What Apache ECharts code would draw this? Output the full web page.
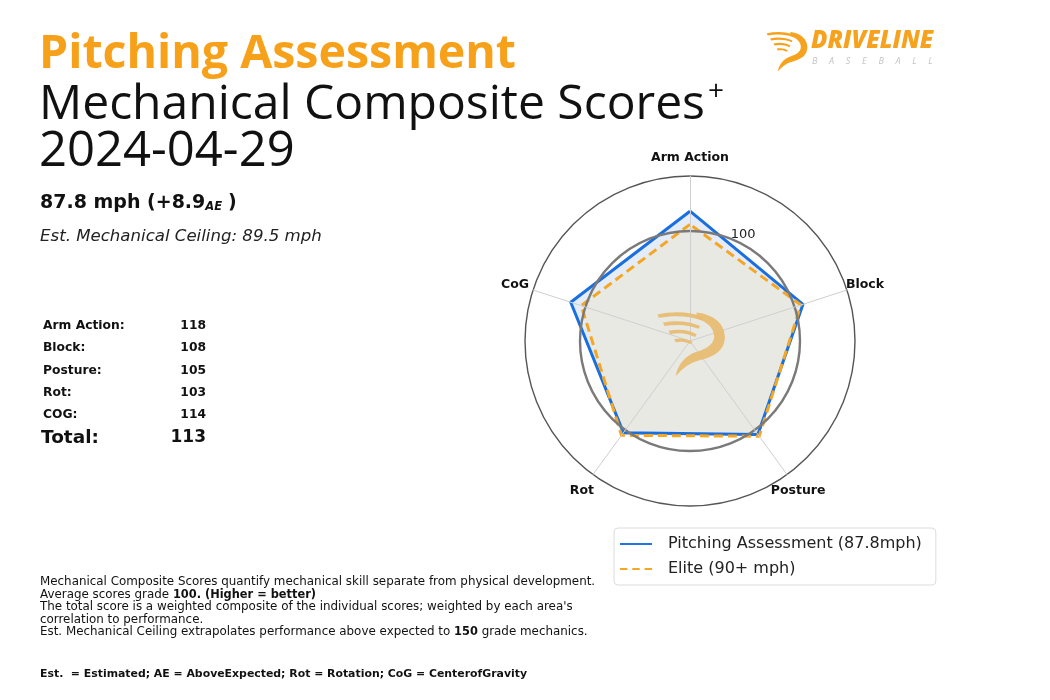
<!DOCTYPE html>
<html><head><meta charset="utf-8">
<script src="https://cdn.jsdelivr.net/npm/echarts@6/dist/echarts.min.js"></script>
<style>html,body{margin:0;padding:0;background:#fff}#c{width:1050px;height:700px}</style>
</head><body><div id="c"></div>
<script>
// ---- data ----
const axisNames = ['Arm Action', 'Block', 'Posture', 'Rot', 'CoG'];
const tableLabels = ['Arm Action:', 'Block:', 'Posture:', 'Rot:', 'COG:'];
const playerScores = [118, 108, 105, 103, 114];
const eliteScores = [106, 106, 107, 106, 104];
const totalScore = 113;
const seriesNames = ['Pitching Assessment (87.8mph)', 'Elite (90+ mph)'];
const radialTicks = [0, 50, 100, 150];
const ringLabel = '100';

// ---- layout ----
const CX = 690, CY = 341, R = 165;
const MAXV = 150;
const BLUE = '#1a6fe0', ORANGE = '#f5a623', TITLE_OR = '#f7a11a';
const FONT = '"Open Sans", Lato, sans-serif';
const FONT2 = '"DejaVu Sans", sans-serif';

// ECharts radar goes counter-clockwise; reorder so display is clockwise
const order = [0, 4, 3, 2, 1];
const indicators = order.map(i => ({ name: axisNames[i], min: 0, max: MAXV }));
const reorder = arr => order.map(i => arr[i]);

const chart = echarts.init(document.getElementById('c'));

const logoPaths = [
  'M2,8 C25,3 50,4 68,12 L66,17 C48,10 26,9 4,13 Z',
  'M10,20 C30,16 48,18 63,25 L61,29 C46,23 30,22 12,25 Z',
  'M18,32 C34,29 47,31 58,37 L56,41 C45,36 34,34 20,37 Z',
  'M26,44 C36,42 45,44 52,48 L50,52 C43,48 36,47 28,49 Z',
  'M58,5 C86,8 101,26 98,46 C95,66 76,72 60,76 C48,79 38,87 28,99 C31,82 42,68 58,63 C74,58 83,51 83,40 C83,28 72,18 58,14 Z'
];
function logoImage(color, opacity) {
  const svg = '<svg xmlns="http://www.w3.org/2000/svg" width="100" height="100" viewBox="0 0 100 100">' +
    logoPaths.map(p => '<path d="' + p + '" fill="' + color + '" fill-opacity="' + opacity + '"/>').join('') + '</svg>';
  return 'data:image/svg+xml;charset=utf-8,' + encodeURIComponent(svg);
}

const graphics = [];
function txt(x, y, text, font, fill, extra) {
  const st = Object.assign({ text: text, font: font, fill: fill, verticalAlign: 'middle' }, extra || {});
  graphics.push({ type: 'text', x: x, y: y, z: 20, silent: true, style: st });
}
// Title block
txt(39, 55, 'Pitching Assessment', 'bold 46.5px ' + FONT, TITLE_OR);
txt(39, 105, 'Mechanical Composite Scores{s|+}', '48px ' + FONT, '#111',
  { rich: { s: { font: '28px ' + FONT, fill: '#111', verticalAlign: 'top', padding: [0, 0, 26, 3] } } });
txt(39, 152, '2024-04-29', '49px ' + FONT, '#111');
txt(40, 203, '87.8 mph (+8.9{sub|AE})', 'bold 19px ' + FONT2, '#111',
  { rich: { sub: { font: 'italic bold 11.5px ' + FONT2, fill: '#111', padding: [8, 6, 0, 0] } } });
txt(40, 237, 'Est. Mechanical Ceiling: 89.5 mph', 'italic 16.6px ' + FONT2, '#222');

// score table
tableLabels.forEach((lab, i) => {
  const y = 326 + i * 22.3;
  txt(43, y, lab, 'bold 12.3px ' + FONT2, '#111');
  txt(206, y, String(playerScores[i]), 'bold 12.3px ' + FONT2, '#111', { align: 'right' });
});
txt(41, 438, 'Total:', 'bold 18.5px ' + FONT2, '#111');
txt(206, 438, String(totalScore), 'bold 17px ' + FONT2, '#111', { align: 'right' });

// footnotes
const notes = [
  'Mechanical Composite Scores quantify mechanical skill separate from physical development.',
  'Average scores grade {b|100. (Higher = better)}',
  'The total score is a weighted composite of the individual scores; weighted by each area\'s',
  'correlation to performance.',
  'Est. Mechanical Ceiling extrapolates performance above expected to {b|150} grade mechanics.'
];
notes.forEach((t, i) => {
  txt(40, 582 + i * 12.6, t, '11.9px ' + FONT2, '#111', { rich: { b: { font: 'bold 11.4px ' + FONT2, fill: '#111' } } });
});
txt(40, 674, 'Est.  = Estimated; AE = AboveExpected; Rot = Rotation; CoG = CenterofGravity', 'bold 10.9px ' + FONT2, '#111');

// axis names, centred on a circle just outside the radar (clockwise from top)
axisNames.forEach((n, i) => {
  const a = i * 2 * Math.PI / axisNames.length, rr = R + 19;
  txt(CX + rr * Math.sin(a), CY - rr * Math.cos(a) + 1, n, 'bold 12.5px ' + FONT2, '#111', { align: 'center' });
});

// ring label
const lr = R * (100 / MAXV) * 1.1, la = 26 * Math.PI / 180;
txt(CX + lr * Math.sin(la), CY - lr * Math.cos(la) + 2, ringLabel, '13px ' + FONT2, '#222', { align: 'center' });

// top-right logo
graphics.push({ type: 'image', x: 766, y: 30, z: 5, silent: true, style: { image: logoImage('#f6a21e', 1), width: 42, height: 42 } });
txt(811, 41, 'DRIVELINE', 'italic 900 24px ' + FONT, '#f6a21e');
txt(812, 61, 'B     A     S     E     B     A     L     L', 'italic 9px ' + FONT, '#c4c4c4');

// watermark logo
graphics.push({ type: 'image', x: 656, y: 309, z: 15, silent: true, style: { image: logoImage('#e8bd72', 0.95), width: 70, height: 68 } });

const option = {
  backgroundColor: '#fff',
  animation: false,
  graphic: graphics,
  legend: {
    orient: 'vertical', left: 614, top: 528,
    itemWidth: 32, itemHeight: 8, itemGap: 9,
    padding: [8, 14, 8, 6],
    borderColor: '#dcdcdc', borderWidth: 1, borderRadius: 4,
    textStyle: { fontFamily: FONT2, fontSize: 16, color: '#222', padding: [0, 0, 0, 11] },
    data: [
      { name: seriesNames[0], icon: 'path://M0,3 L40,3 L40,5.4 L0,5.4 Z', itemStyle: { color: BLUE } },
      { name: seriesNames[1], icon: 'path://M0,3 L9,3 L9,5.6 L0,5.6 Z M15,3 L24,3 L24,5.6 L15,5.6 Z M30,3 L39,3 L39,5.6 L30,5.6 Z', itemStyle: { color: ORANGE } }
    ]
  },
  radar: [
    {
      center: [CX, CY], radius: R, startAngle: 90, shape: 'circle',
      splitNumber: radialTicks.length - 1, indicator: indicators, z: 10,
      axisName: { show: false },
      axisLine: { lineStyle: { color: '#cfcfcf', width: 1 } },
      splitLine: { lineStyle: { color: ['rgba(0,0,0,0)', 'rgba(0,0,0,0)', 'rgba(0,0,0,0)', '#555'], width: 1.4 } },
      splitArea: { show: false },
      axisLabel: { show: false }, axisTick: { show: false }
    },
    {
      center: [CX, CY], radius: R, startAngle: 90, shape: 'circle',
      splitNumber: radialTicks.length - 1, indicator: indicators.map(d => ({ name: '', min: d.min, max: d.max })), z: 10,
      axisName: { show: false },
      axisLine: { show: false },
      splitLine: { lineStyle: { color: ['rgba(0,0,0,0)', 'rgba(0,0,0,0)', '#7a7a7a', 'rgba(0,0,0,0)'], width: 2.4 } },
      splitArea: { show: false },
      axisLabel: { show: false }, axisTick: { show: false }
    }
  ],
  series: [
    { // player light-blue fill (bottom)
      type: 'radar', radarIndex: 0, z: 1, symbol: 'none', silent: true,
      data: [{
        name: 'player-fill', value: reorder(playerScores),
        lineStyle: { width: 0, opacity: 0 },
        areaStyle: { color: '#e3ecf8', opacity: 1 }
      }]
    },
    { // elite grey fill
      type: 'radar', radarIndex: 0, z: 2, symbol: 'none', silent: true,
      data: [{
        name: 'elite-fill', value: reorder(eliteScores),
        lineStyle: { width: 0, opacity: 0 },
        areaStyle: { color: '#e9e9e4', opacity: 1 }
      }]
    },
    {
      type: 'radar', radarIndex: 0, z: 3, symbol: 'none',
      data: [{
        name: seriesNames[0], value: reorder(playerScores),
        lineStyle: { color: BLUE, width: 3 },
        itemStyle: { color: BLUE }
      }]
    },
    {
      type: 'radar', radarIndex: 0, z: 4, symbol: 'none',
      data: [{
        name: seriesNames[1], value: reorder(eliteScores),
        lineStyle: { color: ORANGE, width: 3, type: [9, 5] },
        itemStyle: { color: ORANGE }
      }]
    }
  ]
};
chart.setOption(option);
</script></body></html>
